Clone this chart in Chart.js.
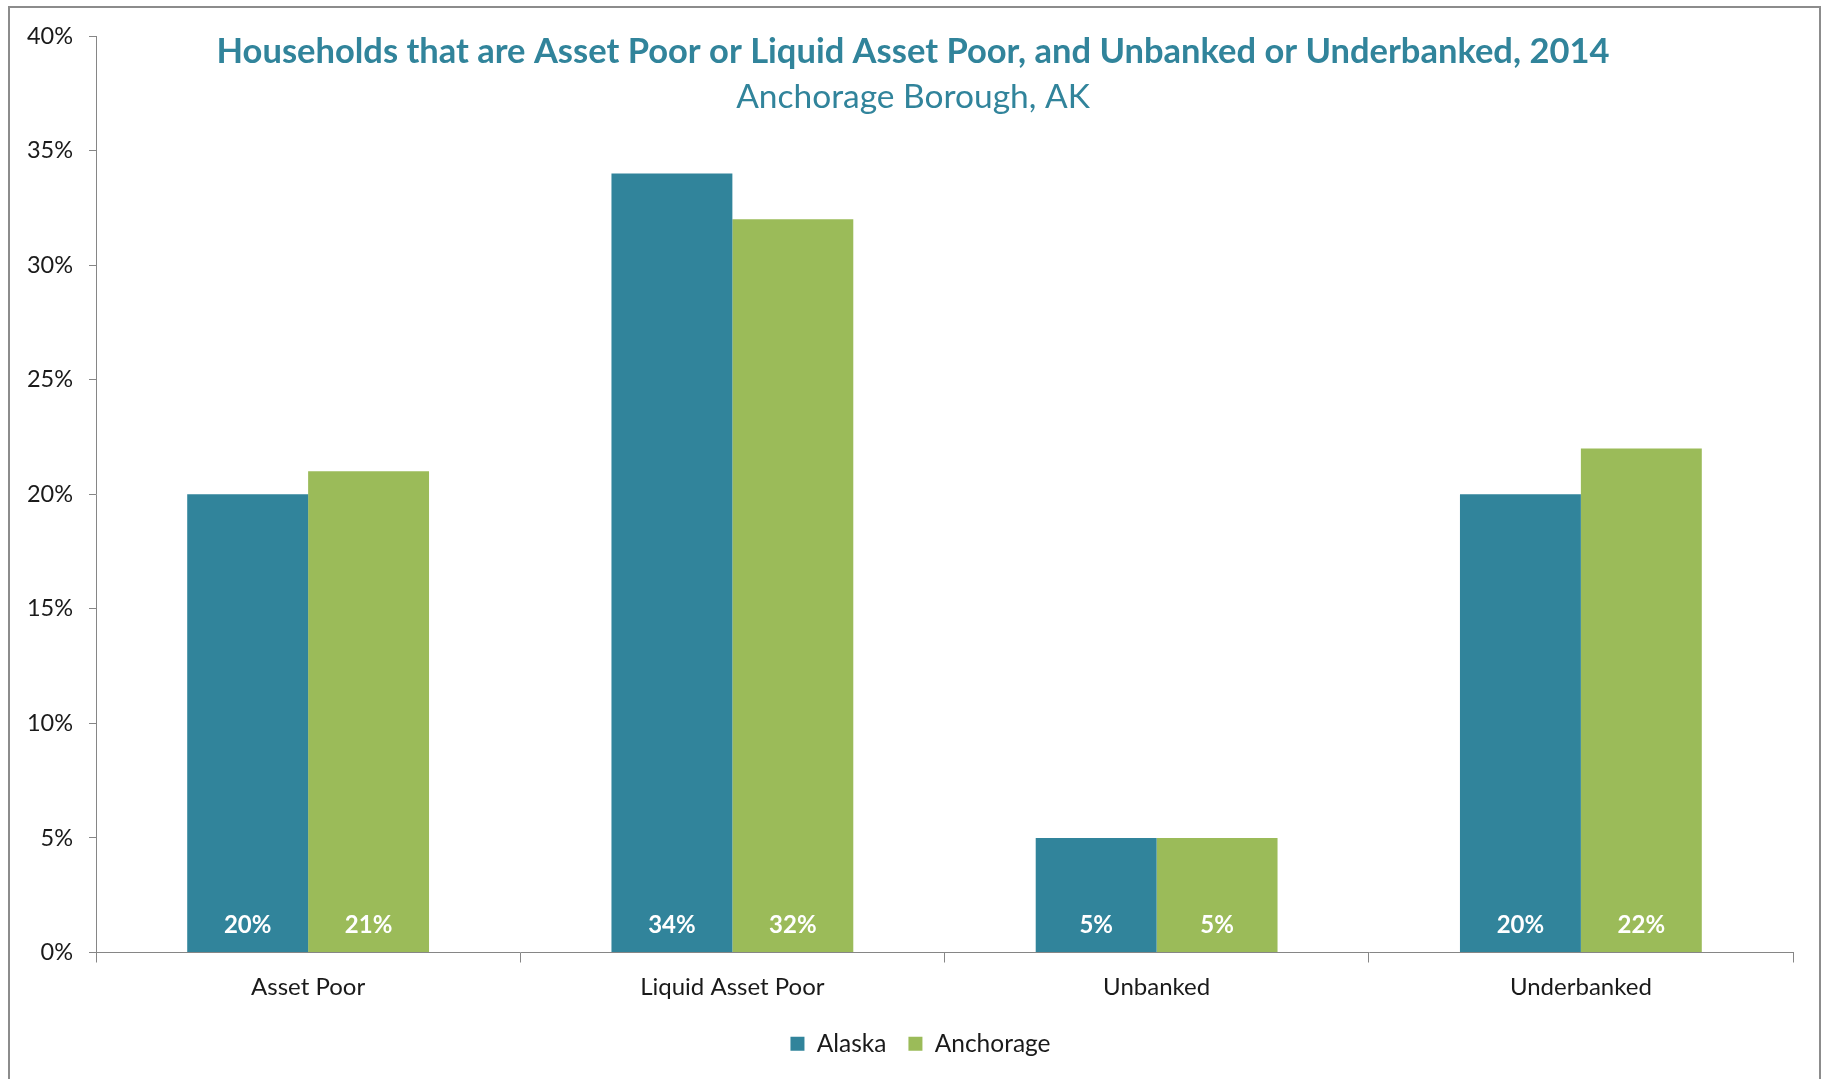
<!DOCTYPE html>
<html><head><meta charset="utf-8">
<script src="https://cdn.jsdelivr.net/npm/chart.js@4/dist/chart.umd.min.js"></script>
<style>
html,body{margin:0;padding:0;background:#fff;overflow:hidden;}
#wrap{position:absolute;left:0;top:0;width:1826px;height:1079px;}
#frame{position:absolute;left:8px;top:6px;width:1813px;height:1100px;border:2px solid #8c8c8c;box-sizing:border-box;pointer-events:none;}
canvas{position:absolute;left:0;top:0;}
</style></head><body>
<div id="wrap"><canvas id="c" width="1826" height="1079"></canvas><div id="frame"></div></div>
<script>
const categories = ['Asset Poor', 'Liquid Asset Poor', 'Unbanked', 'Underbanked'];
const seriesNames = ['Alaska', 'Anchorage'];
const alaskaValues = [20, 34, 5, 20];
const anchorageValues = [21, 32, 5, 22];
const yTickMin = 0, yTickMax = 40, yTickStep = 5;
const titleText = 'Households that are Asset Poor or Liquid Asset Poor, and Unbanked or Underbanked, 2014';
const subtitleText = 'Anchorage Borough, AK';

const TEAL = '#31849B', GREEN = '#9BBB59', AXIS = '#868686';
const FONT = 'Lato, "Open Sans", sans-serif';

const titlePlugin = {
  id: 'overlayTitle',
  afterDraw(chart) {
    const ctx = chart.ctx;
    ctx.save();
    ctx.fillStyle = TEAL;
    ctx.textAlign = 'center';
    ctx.textBaseline = 'middle';
    ctx.font = 'bold 34.5px ' + FONT;
    ctx.fillText(titleText, chart.width / 2, 52);
    ctx.font = '33.5px ' + FONT;
    ctx.fillText(subtitleText, chart.width / 2, 97);
    ctx.restore();
  }
};

const labelPlugin = {
  id: 'barLabels',
  afterDatasetsDraw(chart) {
    const ctx = chart.ctx;
    const yb = chart.scales.y.bottom;
    ctx.save();
    ctx.fillStyle = '#ffffff';
    ctx.textAlign = 'center';
    ctx.textBaseline = 'middle';
    ctx.font = 'bold 24px ' + FONT;
    chart.data.datasets.forEach((ds, i) => {
      chart.getDatasetMeta(i).data.forEach((bar, j) => {
        ctx.fillText(ds.data[j] + '%', bar.x, yb - 27);
      });
    });
    ctx.restore();
  }
};

const legendShift = {
  id: 'legendShift',
  afterLayout(chart) {
    if (chart.legend) {
      chart.legend.left += 24;
      chart.legend.right += 24;
    }
  }
};

new Chart(document.getElementById('c'), {
  type: 'bar',
  data: {
    labels: categories,
    datasets: [
      { label: seriesNames[0], data: alaskaValues, backgroundColor: TEAL },
      { label: seriesNames[1], data: anchorageValues, backgroundColor: GREEN }
    ]
  },
  options: {
    responsive: false,
    animation: false,
    devicePixelRatio: 1,
    datasets: { bar: { categoryPercentage: 0.57, barPercentage: 1.0 } },
    layout: { padding: { left: 0, right: 33, top: 36, bottom: 13 } },
    plugins: {
      tooltip: { enabled: false },
      title: { display: false },
      legend: {
        position: 'bottom',
        labels: { boxWidth: 14, boxHeight: 14, color: '#1a1a1a', font: { family: FONT, size: 24.5 }, padding: 22 }
      }
    },
    scales: {
      x: {
        grid: { offset: true, drawOnChartArea: false, tickLength: 10, color: AXIS },
        border: { color: AXIS, width: 1 },
        ticks: { color: '#1a1a1a', font: { family: FONT, size: 24 }, padding: 10 },
        afterFit(s) { s.height = 57; }
      },
      y: {
        min: yTickMin, max: yTickMax,
        grid: { drawOnChartArea: false, tickLength: 7, color: AXIS },
        border: { color: AXIS, width: 1 },
        ticks: { stepSize: yTickStep, color: '#1a1a1a', font: { family: FONT, size: 23.5 }, padding: 16,
                 callback: v => v + '%' },
        afterFit(s) { s.width = 96; }
      }
    }
  },
  plugins: [titlePlugin, labelPlugin, legendShift]
});
</script>
</body></html>
